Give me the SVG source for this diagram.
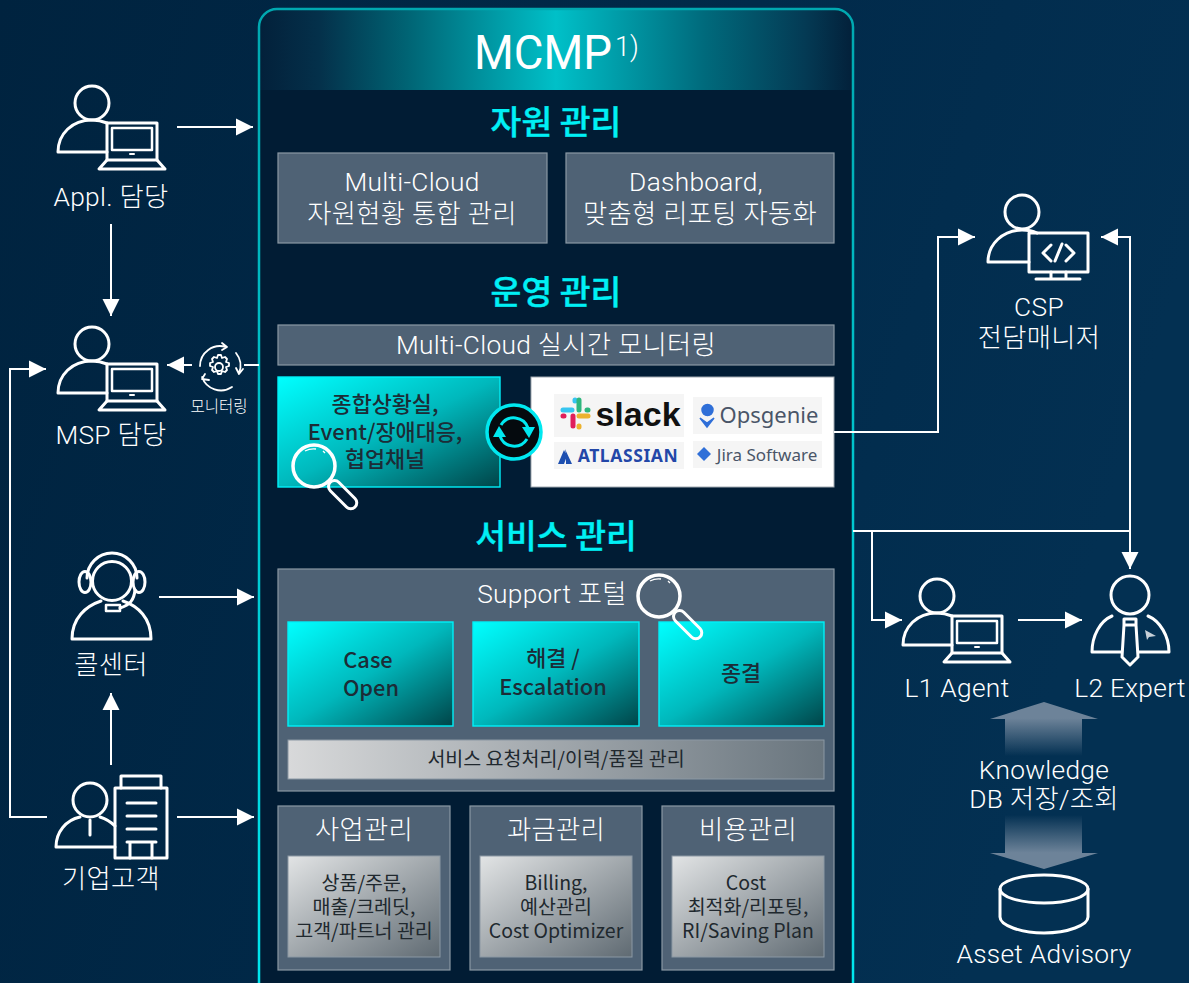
<svg xmlns="http://www.w3.org/2000/svg" width="1189" height="983" viewBox="0 0 1189 983">
<style>
text{font-family:"Noto Sans CJK KR","Noto Sans",sans-serif;text-anchor:middle;fill:#fff}
.l{font-family:Roboto,"Noto Sans CJK KR",sans-serif;font-size:26.3px;font-weight:300;letter-spacing:.3px}
.sec{font-size:33.5px;font-weight:500;fill:#00f0f5;stroke:#00f0f5;stroke-width:.4}
.d{font-size:21.8px;font-weight:500;fill:#1c2c36}
.s{font-size:19.5px;fill:#20282e}
.ico{fill:none;stroke:#fff;stroke-width:3;stroke-linejoin:round;stroke-linecap:round}
.box{fill:#4f6275;stroke:#8b98a4;stroke-width:1.2}
.cy{fill:url(#cyan);stroke:#00f0f8;stroke-width:1.4}
.gr{fill:url(#grey);stroke:#8b98a4;stroke-width:1}
.con{fill:none;stroke:#fff;stroke-width:2}
.lg{fill:#f5f5f5}
</style>
<defs>
<linearGradient id="bg" x1="0" y1="0" x2="1" y2="0.25"><stop offset="0" stop-color="#00233f"/><stop offset=".6" stop-color="#012a4a"/><stop offset="1" stop-color="#033052"/></linearGradient>
<linearGradient id="head" x1="0" x2="1" y1="0" y2="0"><stop offset="0" stop-color="#03203a"/><stop offset=".1" stop-color="#04304a"/><stop offset=".25" stop-color="#006474"/><stop offset=".5" stop-color="#00c0c8"/><stop offset=".75" stop-color="#006a7c"/><stop offset=".92" stop-color="#043a54"/><stop offset="1" stop-color="#03203a"/></linearGradient>
<linearGradient id="bord" x1="0" x2="0" y1="0" y2="1"><stop offset="0" stop-color="#00a8b0"/><stop offset="1" stop-color="#00e8f0"/></linearGradient>
<linearGradient id="cyan" x1="0" y1="0" x2="1" y2="1"><stop offset="0" stop-color="#00ffff"/><stop offset=".5" stop-color="#00b8bc"/><stop offset="1" stop-color="#004448"/></linearGradient>
<linearGradient id="grey" x1="0" y1="0" x2="1" y2="1"><stop offset="0" stop-color="#e2e4e5"/><stop offset="1" stop-color="#5f6a72"/></linearGradient>
<linearGradient id="bar" x1="0" y1="0" x2="1" y2="0"><stop offset="0" stop-color="#d8d9da"/><stop offset="1" stop-color="#69757e"/></linearGradient>
<linearGradient id="au" x1="0" y1="0" x2="0" y2="1"><stop offset=".3" stop-color="#6d8399"/><stop offset="1" stop-color="#6d8399" stop-opacity="0"/></linearGradient>
<linearGradient id="ad" x1="0" y1="1" x2="0" y2="0"><stop offset=".3" stop-color="#6d8399"/><stop offset="1" stop-color="#6d8399" stop-opacity="0"/></linearGradient>
<marker id="ah" markerUnits="userSpaceOnUse" markerWidth="18" markerHeight="18" refX="17" refY="9" orient="auto"><path d="M0,0.5 L17,9 L0,17.5 Z" fill="#fff"/></marker>
<g id="pl" class="ico">
<circle cx="92" cy="103" r="17"/>
<path d="M107,152 H58 C58,134 72,120 92,120 C97,120 102,121 107,123"/>
<rect x="107" y="123" width="50" height="37" fill="none"/>
<rect x="112" y="128" width="40" height="22" stroke-width="2.5"/>
<path d="M107,160 L99,169 H165 L157,160" />
<path d="M130,154 H134" stroke-width="2"/>
</g>
<g id="mag">
<circle cx="0" cy="0" r="21" fill="none" stroke="#fff" stroke-width="3.5"/>
<path d="M-9,-15 A18,18 0 0 1 2,-17 M9,-15 L11,-13" fill="none" stroke="#fff" stroke-width="1.3"/>
<rect x="23" y="-6" width="35" height="12" rx="6" transform="rotate(45)" fill="none" stroke="#fff" stroke-width="3"/>
</g>
</defs>
<rect width="1189" height="983" fill="url(#bg)"/>

<g id="mcmp-panel">
<rect x="259" y="9" width="594" height="1000" rx="18" fill="#011c34"/>
<path d="M259,90 V27 A18,18 0 0 1 277,9 H835 A18,18 0 0 1 853,27 V90 Z" fill="url(#head)"/>
<rect x="259" y="9" width="594" height="1000" rx="18" fill="none" stroke="url(#bord)" stroke-width="2.5"/>
<text x="543" y="69" font-size="49" textLength="138" lengthAdjust="spacingAndGlyphs" style="font-family:Roboto,sans-serif;font-weight:400">MCMP</text>
<text x="627" y="56" font-size="27" style="font-family:Roboto,sans-serif;font-weight:300">1)</text>
</g>

<g id="sec-resource">
<text class="sec" x="556" y="134">자원 관리</text>
<g id="n-multicloud"><rect class="box" x="278" y="153" width="269" height="90"/><text class="l" x="412" y="191">Multi-Cloud</text><text class="l" x="412" y="223">자원현황 통합 관리</text></g>
<g id="n-dashboard"><rect class="box" x="566" y="153" width="268" height="90"/><text class="l" x="696" y="191">Dashboard,</text><text class="l" x="700" y="223">맞춤형 리포팅 자동화</text></g>
</g>

<g id="sec-ops">
<text class="sec" x="556" y="304">운영 관리</text>
<g id="n-monitor"><rect class="box" x="278" y="325" width="556" height="40"/><text class="l" x="556" y="354">Multi-Cloud 실시간 모니터링</text></g>
<g id="n-situation"><rect class="cy" x="278" y="377" width="222" height="110"/>
<text class="d" x="385" y="412">종합상황실,</text><text class="d" x="385" y="440">Event/장애대응,</text><text class="d" x="385" y="467">협업채널</text>
<use href="#mag" x="314" y="466"/></g>
<g id="n-tools"><rect x="531" y="377" width="303" height="110" fill="#fff" stroke="#a0a8b0"/>
<rect class="lg" x="554" y="394" width="130" height="43"/><rect class="lg" x="693" y="397" width="129" height="37"/><rect class="lg" x="554" y="442" width="130" height="27"/><rect class="lg" x="693" y="441" width="129" height="27"/>
<g fill="none" stroke-width="5" stroke-linecap="round">
<path d="M563,410 H572 M575,400 V401" stroke="#36C5F0"/><path d="M579,400 V410 M587,410 H588" stroke="#2EB67D"/><path d="M579,416 H588 M579,427 V426" stroke="#ECB22E"/><path d="M573,416 V426 M563,416 H564" stroke="#E01E5A"/>
</g>
<text x="638" y="426" font-size="34" style="font-family:'Liberation Sans',sans-serif;font-weight:700;fill:#111">slack</text>
<path d="M702,410 a5.5,5.5 0 1 1 11,0 a5.5,5.5 0 1 1 -11,0 M700,418 L707,423 L714,418 L707,427 Z" fill="#2f6fd8" stroke="#2f6fd8" stroke-width="1.5"/>
<text x="769" y="423" font-size="22" style="font-family:'Noto Sans',sans-serif;fill:#4a5568">Opsgenie</text>
<path d="M558,464 L564,450 L567,456 L564,464 Z M565,449 L572,464 H566 L566,456 Z" fill="#1d4fb0"/>
<text x="628" y="462" font-size="17.5" style="font-family:'Noto Sans',sans-serif;font-weight:700;fill:#2347a8;letter-spacing:.6px">ATLASSIAN</text>
<path d="M704,447 L711,454 L704,461 L697,454 Z" fill="#2f6fd8"/>
<text x="767" y="461" font-size="17" style="font-family:'Noto Sans',sans-serif;fill:#4a5568">Jira Software</text>
</g>
<g id="n-sync"><circle cx="514" cy="432" r="27" fill="#050a0e" stroke="#00e8f0" stroke-width="3.5"/>
<path d="M501,425 A15,15 0 0 1 528,428 M527,439 A15,15 0 0 1 500,436" fill="none" stroke="#00e8f0" stroke-width="3"/>
<path d="M522,427 L535,427 L529,438 Z" fill="#00e8f0"/><path d="M493,437 L506,437 L499,426 Z" fill="#00e8f0"/></g>
</g>

<g id="sec-service">
<text class="sec" x="556" y="548">서비스 관리</text>
<g id="n-open"><rect class="box" x="278" y="569" width="556" height="222"/><text class="l" x="552" y="603">Support 포털</text>
<rect class="cy" x="288" y="622" width="165" height="104"/><text class="d" x="368" y="668">Case</text><text class="d" x="371" y="696">Open</text></g>
<g id="n-resolve"><rect class="cy" x="473" y="622" width="166" height="104"/><text class="d" x="553" y="666">해결 /</text><text class="d" x="553" y="695">Escalation</text></g>
<g id="n-close"><rect class="cy" x="659" y="622" width="165" height="104"/><text class="d" x="741" y="681">종결</text></g>
<use href="#mag" x="659" y="596"/>
<g id="n-history"><rect x="288" y="740" width="536" height="39" fill="url(#bar)" stroke="#8b98a4"/><text class="s" x="556" y="766">서비스 요청처리/이력/품질 관리</text></g>
</g>

<g id="n-biz"><rect class="box" x="278" y="806" width="172" height="164"/><text class="l" x="364" y="839">사업관리</text><rect class="gr" x="288" y="856" width="152" height="101"/><text class="s" x="364" y="890">상품/주문,</text><text class="s" x="364" y="914">매출/크레딧,</text><text class="s" x="364" y="938">고객/파트너 관리</text></g>
<g id="n-bill"><rect class="box" x="470" y="806" width="172" height="164"/><text class="l" x="556" y="839">과금관리</text><rect class="gr" x="480" y="856" width="152" height="101"/><text class="s" x="556" y="890">Billing,</text><text class="s" x="556" y="914">예산관리</text><text class="s" x="556" y="938">Cost Optimizer</text></g>
<g id="n-cost"><rect class="box" x="662" y="806" width="172" height="164"/><text class="l" x="748" y="839">비용관리</text><rect class="gr" x="672" y="856" width="152" height="101"/><text class="s" x="746" y="890">Cost</text><text class="s" x="748" y="914">최적화/리포팅,</text><text class="s" x="748" y="938">RI/Saving Plan</text></g>

<g id="connectors">
<path class="con" marker-end="url(#ah)" d="M177,127 H253"/>
<path class="con" marker-end="url(#ah)" d="M111,224 V316"/>
<path class="con" d="M259,365 H244"/>
<path class="con" marker-end="url(#ah)" d="M192,365 H167"/>
<path class="con" marker-end="url(#ah)" d="M47,817 H10 V369 H46"/>
<path class="con" marker-end="url(#ah)" d="M159,597 H254"/>
<path class="con" marker-end="url(#ah)" d="M111,765 V693"/>
<path class="con" marker-end="url(#ah)" d="M177,817 H254"/>
<path class="con" marker-end="url(#ah)" d="M834,432 H938 V237 H975"/>
<path class="con" d="M853,531 H1130"/>
<path class="con" marker-end="url(#ah)" d="M1130,531 V237 H1101"/>
<path class="con" marker-end="url(#ah)" d="M1130,531 V569"/>
<path class="con" marker-end="url(#ah)" d="M872,531 V620 H902"/>
<path class="con" marker-end="url(#ah)" d="M1018,620 H1082"/>
<path d="M1044,702 L1098,719 H1082 V756 H1005 V719 H990 Z" fill="url(#au)"/>
<path d="M1044,869 L1098,853 H1082 V815 H1005 V853 H990 Z" fill="url(#ad)"/>
</g>

<g id="n-appl"><use href="#pl"/><text class="l" x="111" y="206">Appl. 담당</text></g>
<g id="n-msp"><use href="#pl" y="241"/><text class="l" x="111" y="444">MSP 담당</text></g>
<g id="n-monicon"><g fill="none" stroke="#fff" stroke-width="1.8" stroke-linejoin="round" stroke-linecap="round">
<circle cx="219" cy="367" r="4"/>
<path d="M219,355 l2,0 1,3 3,-1 2,2 -1,3 3,1 0,3 -3,1 1,3 -2,2 -3,-1 -1,3 -3,0 -1,-3 -3,1 -2,-2 1,-3 -3,-1 0,-3 3,-1 -1,-3 2,-2 3,1 1,-3 Z"/>
<path d="M200,366 A20,20 0 0 1 226,347 M222,343 l5,4 -5,3 M236,353 A20,20 0 0 1 239,373 M236,368 l3,6 4,-5 M232,387 A20,20 0 0 1 202,377 M205,374 l-3,5 7,1"/></g>
<text x="219" y="412" font-size="15.5" style="font-weight:300">모니터링</text></g>
<g id="n-call" class="ico">
<circle cx="112" cy="581" r="19.5"/>
<path d="M87,578 A25,25 0 0 1 137,578 M135,590 C134,600 130,605 120,608"/>
<ellipse cx="85" cy="582" rx="6" ry="10.5"/><ellipse cx="139" cy="582" rx="6" ry="10.5"/>
<path d="M72,639 C72,618 86,606 101,601 M123,601 C138,606 151,618 151,639 M72,639 H151"/>
<rect x="106" y="605" width="14" height="6" stroke-width="2.5"/>
</g>
<text class="l" x="111" y="674">콜센터</text>
<g id="n-customer"><g class="ico">
<circle cx="90" cy="800" r="17"/>
<path d="M115,847 H56 C56,832 66,820 80,817 M100,817 C106,819 111,822 115,826 M90,820 V835"/>
<rect x="115" y="788" width="52" height="70"/><path d="M121,788 V776 H161 V788 M127,803 H156 M127,816 H156 M127,829 H156 M127,842 H156 M130,842 V858 M152,842 V858"/>
</g><text class="l" x="111" y="888">기업고객</text></g>

<g id="n-csp"><g class="ico">
<circle cx="1022" cy="212" r="17"/>
<path d="M1029,262 H988 C988,244 1003,230 1022,230 C1027,230 1033,231 1037,233"/>
<rect x="1029" y="233" width="59" height="39"/>
<path d="M1051,245 L1043,253 L1051,261 M1066,245 L1074,253 L1066,261 M1062,244 L1055,261 M1051,272 V279 M1066,272 V279 M1036,279 H1080"/>
</g><text class="l" x="1039" y="316">CSP</text><text class="l" x="1039" y="347">전담매니저</text></g>
<g id="n-l1"><use href="#pl" x="845" y="493"/><text class="l" x="957" y="697">L1 Agent</text></g>
<g id="n-l2"><g class="ico">
<circle cx="1130" cy="595" r="19"/>
<path d="M1112,616 C1100,621 1092,636 1092,652 H1122 M1148,616 C1160,621 1169,636 1169,652 H1138 M1124,619 H1136 V625 H1124 Z M1124,625 L1122,657 L1130,665 L1138,657 L1136,625"/>
</g><path d="M1145,630 L1156,636 L1149,637 L1147,640 Z" fill="#c8d0d8"/><text class="l" x="1130" y="697">L2 Expert</text></g>
<g id="n-knowledge"><text class="l" x="1044" y="779">Knowledge</text><text class="l" x="1044" y="808">DB 저장/조회</text></g>
<g id="n-asset"><g class="ico"><ellipse cx="1044" cy="889" rx="44" ry="14"/><path d="M1000,889 V917 C1000,925 1020,933 1044,933 C1068,933 1088,925 1088,917 V889"/></g><text class="l" x="1044" y="963">Asset Advisory</text></g>
</svg>
